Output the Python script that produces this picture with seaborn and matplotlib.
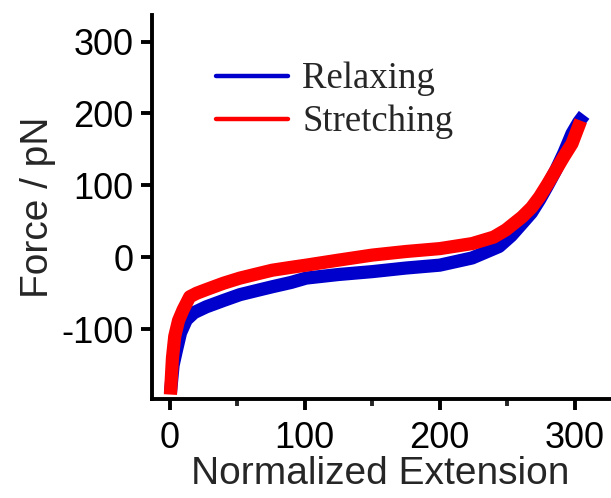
import matplotlib
matplotlib.use("Agg")
import matplotlib.pyplot as plt
import seaborn as sns
import pandas as pd
from matplotlib.lines import Line2D

# Data (center of each noisy trace)
relax_x = [0.5, 2.5, 5, 8, 12.3, 18, 27, 40, 52, 65, 76, 90, 101, 125, 150, 175, 200, 224, 244, 253, 261, 268, 274, 280, 286, 292, 298, 303, 307]
relax_y = [-189, -150, -129, -105, -87, -77, -69, -60, -52, -46, -41, -35, -29, -24, -20, -15, -11, -1, 15, 30, 47, 62, 80, 100, 121, 145, 172, 188, 198]
stretch_x = [0.5, 2, 3.7, 6.5, 9.9, 14.8, 20, 27, 40, 52, 65, 76, 90, 101, 125, 150, 175, 200, 224, 240, 249, 261, 268, 274, 280, 286, 292, 298, 304.5]
stretch_y = [-191, -140, -110, -88, -73, -55, -50, -45, -36, -29, -23, -18, -14, -11, -4, 3, 8, 12, 19, 28, 38, 56, 69, 84, 102, 121, 140, 158, 190]

series_names = ["Relaxing", "Stretching"]
series_colors = ["#0000CC", "#FF0000"]

df = pd.concat([
    pd.DataFrame({"ext": relax_x, "force": relax_y, "series": series_names[0]}),
    pd.DataFrame({"ext": stretch_x, "force": stretch_y, "series": series_names[1]}),
])

sns.set_style("ticks")
plt.rcParams["font.family"] = ["Liberation Sans", "DejaVu Sans"]
plt.rcParams["axes.unicode_minus"] = False

fig = plt.figure(figsize=(6.11, 4.98), dpi=100)
ax = fig.add_axes([0.248, 0.199, 0.75, 0.771])

sns.lineplot(data=df, x="ext", y="force", hue="series", palette=series_colors,
             hue_order=series_names, linewidth=9.5, sort=False, estimator=None,
             legend=False, ax=ax, solid_capstyle="butt")

ax.set_xlim(-13.5, 326)
ax.set_ylim(-197, 337)
ax.set_xticks([0, 100, 200, 300])
ax.set_xticks([50, 150, 250], minor=True)
ax.set_yticks([-100, 0, 100, 200, 300])

for side in ["top", "right"]:
    ax.spines[side].set_visible(False)
for side in ["left", "bottom"]:
    ax.spines[side].set_linewidth(2.8)
    ax.spines[side].set_color("black")

ax.tick_params(axis="both", which="major", direction="out", length=8, width=2.8,
               labelsize=26, colors="black")
ax.tick_params(axis="x", which="major", pad=8)
ax.tick_params(axis="y", which="major", pad=5)
ax.tick_params(axis="x", which="minor", direction="out", length=5, width=2.8)

ax.set_xlabel("Normalized Extension", fontsize=28, labelpad=0)
ax.set_ylabel("Force / pN", fontsize=28, labelpad=4)

handles = [Line2D([0], [0], color=c, lw=3.2) for c in series_colors]
leg = ax.legend(handles, series_names, loc="upper left",
                bbox_to_anchor=(216 / 611, 1 - 62 / 498), bbox_transform=fig.transFigure,
                frameon=False, handlelength=1.96, handletextpad=0.38,
                labelspacing=0.23, borderpad=0, borderaxespad=0,
                prop={"family": "Liberation Serif", "size": 26.5})

fig.savefig("out.png", dpi=100)
